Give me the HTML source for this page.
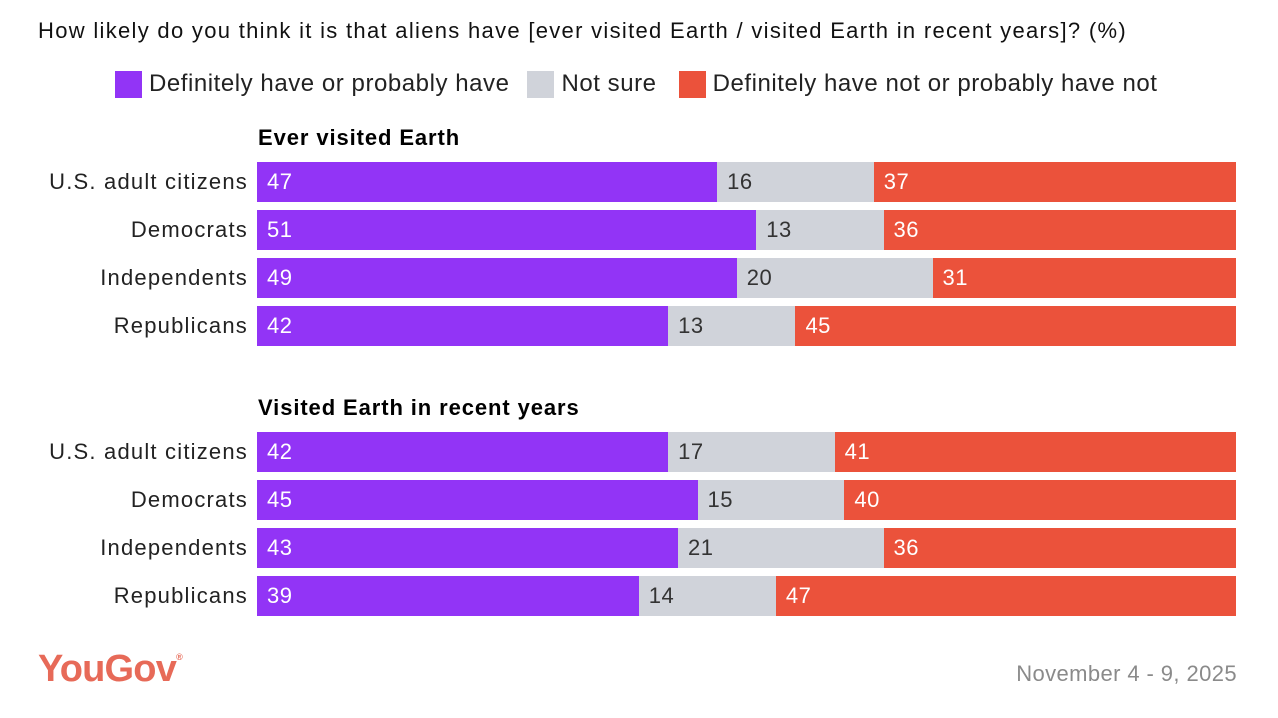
<!DOCTYPE html>
<html><head><meta charset="utf-8"><style>
body{margin:0;width:1278px;height:718px;background:#fff;font-family:"Liberation Sans",sans-serif;overflow:hidden;position:relative}
.t{position:absolute;white-space:nowrap}
</style></head><body>
<div class="t" style="left:38px;top:18px;font-size:22px;letter-spacing:1.3px;color:#111">How likely do you think it is that aliens have [ever visited Earth / visited Earth in recent years]? (%)</div>
<div style="position:absolute;left:115px;top:70px;font-size:24px;letter-spacing:0.55px;color:#222;display:flex;align-items:center">
<span style="width:27px;height:27px;background:#9234f6;display:inline-block;margin-right:7px"></span><span>Definitely have or probably have</span>
<span style="width:27px;height:27px;background:#d0d3da;display:inline-block;margin:0 7px 0 18px"></span><span>Not sure</span>
<span style="width:27px;height:27px;background:#eb523b;display:inline-block;margin:0 7px 0 22px"></span><span>Definitely have not or probably have not</span>
</div>
<div id="chart"></div>
<div class="t" style="left:38px;top:648px;font-size:38px;font-weight:bold;color:#e76a58;letter-spacing:-0.8px">YouGov<sup style="font-size:9px;vertical-align:top;position:relative;top:4px">®</sup></div>
<div class="t" style="right:41px;top:661px;font-size:22px;letter-spacing:0.4px;color:#8a8a8a">November 4 - 9, 2025</div>
<script>
const groups=["Ever visited Earth","Visited Earth in recent years"];
const categories=["U.S. adult citizens","Democrats","Independents","Republicans"];
const have=[[47,51,49,42],[42,45,43,39]];
const notSure=[[16,13,20,13],[17,15,21,14]];
const haveNot=[[37,36,31,45],[41,40,36,47]];
const X0=257,W=979;
const xs=v=>v/100*W;
const colors=["#9234f6","#d0d3da","#eb523b"];
const txt=["#fff","#333","#fff"];
const segNames=["have","not-sure","have-not"];
const c=document.getElementById('chart');
groups.forEach((g,gi)=>{
  const gy=124+gi*270;
  const h=document.createElement('div');h.className='t';
  
  
  h.style.cssText=`left:258px;top:${gy+1}px;font-size:22px;letter-spacing:0.9px;font-weight:bold;color:#000`;
  h.textContent=g;c.appendChild(h);
  categories.forEach((cat,ri)=>{
    const y=gy+38+ri*48;
    const l=document.createElement('div');l.className='t';
    
    
    l.style.cssText=`right:${1278-248}px;top:${y+7}px;font-size:22px;letter-spacing:1.2px;color:#222`;
    l.textContent=cat;c.appendChild(l);
    const vals=[have[gi][ri],notSure[gi][ri],haveNot[gi][ri]];
    let acc=0;
    vals.forEach((v,si)=>{
      const b=document.createElement('div');
      
      
      b.style.cssText=`position:absolute;left:${X0+xs(acc)}px;top:${y}px;width:${xs(v)}px;height:40px;background:${colors[si]};color:${txt[si]};font-size:22px;letter-spacing:0.5px;line-height:40px;padding-left:10px;box-sizing:border-box`;
      b.textContent=v;c.appendChild(b);acc+=v;
    });
  });
});
</script>
</body></html>
